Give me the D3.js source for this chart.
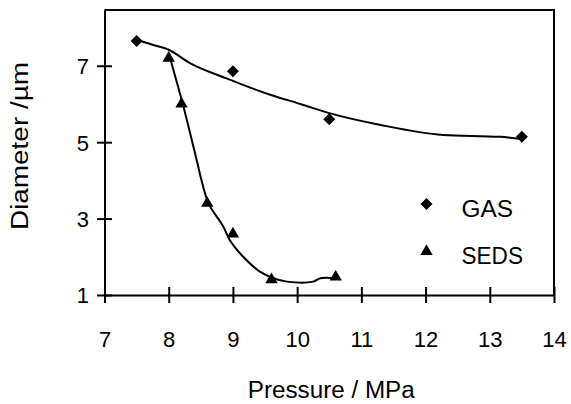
<!DOCTYPE html>
<html>
<head>
<meta charset="utf-8">
<script src="https://cdnjs.cloudflare.com/ajax/libs/d3/7.8.5/d3.min.js"></script>
<style>
  body { margin: 0; background: #fff; }
  svg text { font-family: "Liberation Sans", Arial, sans-serif; fill: #000; }
</style>
</head>
<body>
<div id="chart"></div>
<script>
// Measured points
var gasPressure = [7.5, 9, 10.5, 13.5];
var gasDiameter = [7.65, 6.86, 5.6, 5.14];
var sedsPressure = [8, 8.2, 8.6, 9, 9.6, 10.6];
var sedsDiameter = [7.2, 6.0, 3.4, 2.6, 1.4, 1.47];

// Fitted curves
var gasFitX = [7.5, 7.75, 8, 8.33, 8.9, 9.58, 10.05, 10.5, 11.3, 12.27, 13.16, 13.5];
var gasFitY = [7.68, 7.55, 7.42, 7.07, 6.67, 6.24, 6.0, 5.76, 5.45, 5.19, 5.14, 5.08];
var sedsFitX = [8, 8.23, 8.44, 8.51, 8.62, 8.85, 8.95, 9.16, 9.42, 9.63, 9.84, 10.25, 10.36, 10.62];
var sedsFitY = [7.33, 5.93, 4.5, 4.01, 3.4, 2.79, 2.44, 2.0, 1.61, 1.44, 1.35, 1.35, 1.44, 1.44];

var xTicks = [7, 8, 9, 10, 11, 12, 13, 14];
var yTicks = [1, 3, 5, 7];
var seriesNames = ["GAS", "SEDS"];

var margin = {top: 10, right: 17, bottom: 109, left: 104.5},
    width = 571, height = 404,
    innerW = width - margin.left - margin.right,
    innerH = height - margin.top - margin.bottom;

var svg = d3.select("#chart").append("svg")
  .attr("width", width)
  .attr("height", height);

var g = svg.append("g")
  .attr("transform", "translate(" + margin.left + "," + margin.top + ")");

var x = d3.scaleLinear().domain([7, 14]).range([0, innerW]);
var y = d3.scaleLinear().domain([1, 8.46]).range([innerH, 0]);

// Frame (top and right)
g.append("path")
  .attr("d", "M0,0H" + innerW + "V" + innerH)
  .attr("fill", "none").attr("stroke", "#000").attr("stroke-width", 2);

// X axis
var xAxis = g.append("g")
  .attr("transform", "translate(0," + innerH + ")")
  .call(d3.axisBottom(x).tickValues(xTicks).tickSize(0).tickPadding(0).tickFormat(d3.format("d")));
xAxis.select(".domain").attr("stroke-width", 2);
xAxis.selectAll(".tick line").attr("y1", -8).attr("y2", 8).attr("stroke-width", 2);
xAxis.selectAll(".tick text")
  .attr("y", 51.5).attr("dy", null)
  .style("font-size", "22px");

// Y axis
var yAxis = g.append("g")
  .call(d3.axisLeft(y).tickValues(yTicks).tickSize(0).tickPadding(0).tickFormat(d3.format("d")));
yAxis.select(".domain").attr("stroke-width", 2);
yAxis.selectAll(".tick line").attr("x1", -7.5).attr("x2", 7.5).attr("stroke-width", 2);
yAxis.selectAll(".tick text")
  .attr("x", -15.5).attr("dy", "0.36em")
  .style("font-size", "22px");

// Axis titles
g.append("text")
  .attr("x", innerW / 2 + 2)
  .attr("y", innerH + 103)
  .attr("text-anchor", "middle")
  .attr("textLength", 167).attr("lengthAdjust", "spacingAndGlyphs")
  .style("font-size", "23px")
  .text("Pressure / MPa");

svg.append("text")
  .attr("transform", "translate(28,146) rotate(-90)")
  .attr("text-anchor", "middle")
  .attr("textLength", 168).attr("lengthAdjust", "spacingAndGlyphs")
  .style("font-size", "23px")
  .text("Diameter /\u00b5m");

// Fit lines
var line = d3.line()
  .x(function(d) { return x(d[0]); })
  .y(function(d) { return y(d[1]); })
  .curve(d3.curveMonotoneX);

g.append("path")
  .datum(d3.zip(gasFitX, gasFitY))
  .attr("d", line)
  .attr("fill", "none").attr("stroke", "#000").attr("stroke-width", 2);

g.append("path")
  .datum(d3.zip(sedsFitX, sedsFitY))
  .attr("d", d3.line()
    .x(function(d) { return x(d[0]); })
    .y(function(d) { return y(d[1]); })
    .curve(d3.curveCatmullRom))
  .attr("fill", "none").attr("stroke", "#000").attr("stroke-width", 2);

// Markers
var diamond = d3.symbol().type(d3.symbolSquare).size(72);
var triangle = d3.symbol().type(d3.symbolTriangle).size(66);

g.selectAll(".gas")
  .data(d3.zip(gasPressure, gasDiameter))
  .enter().append("path")
  .attr("class", "gas")
  .attr("d", diamond)
  .attr("transform", function(d) { return "translate(" + x(d[0]) + "," + y(d[1]) + ") rotate(45)"; })
  .attr("fill", "#000");

g.selectAll(".seds")
  .data(d3.zip(sedsPressure, sedsDiameter))
  .enter().append("path")
  .attr("class", "seds")
  .attr("d", triangle)
  .attr("transform", function(d) { return "translate(" + x(d[0]) + "," + y(d[1]) + ")"; })
  .attr("fill", "#000");

// Legend
var legend = svg.append("g");
var legendMarks = [diamond, triangle];
seriesNames.forEach(function(name, i) {
  var ly = 204 + i * 47.5;
  legend.append("path")
    .attr("d", legendMarks[i])
    .attr("transform", "translate(426.5," + ly + ")" + (i === 0 ? " rotate(45)" : ""))
    .attr("fill", "#000");
  legend.append("text")
    .attr("x", 461.5)
    .attr("y", ly + 12.5)
    .attr("textLength", i === 0 ? 51.5 : 61.5).attr("lengthAdjust", "spacingAndGlyphs")
    .style("font-size", "23px")
    .text(name);
});
</script>
</body>
</html>
